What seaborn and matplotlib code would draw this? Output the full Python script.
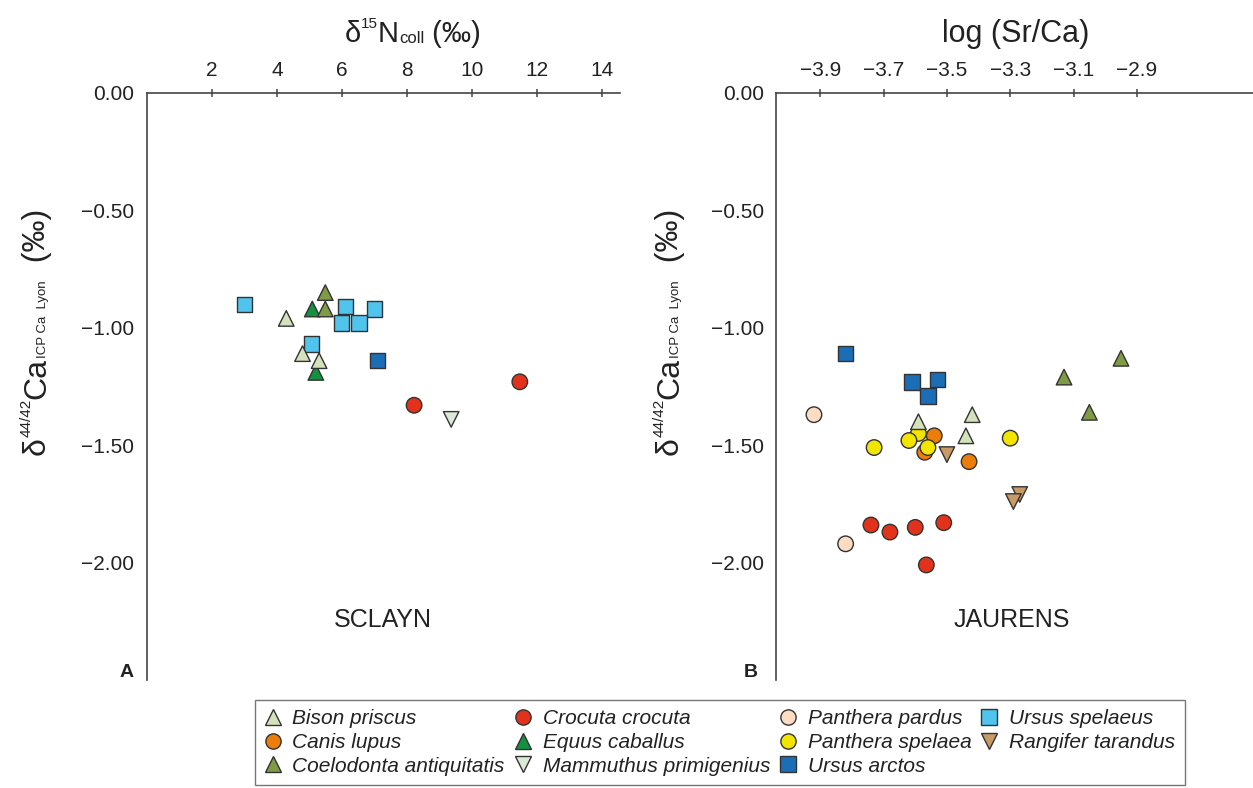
"""
Ca isotopes vs d15N (Sclayn) and log(Sr/Ca) (Jaurens)
"""

import numpy as np
import pandas as pd
import matplotlib
matplotlib.use("Agg")
import matplotlib.pyplot as plt
import seaborn as sns
from matplotlib.lines import Line2D
from matplotlib.transforms import IdentityTransform

# ── 1. Data ────────────────────────────────────────────────────────────────────
# Sclayn: x = d15N coll (permil), y = d44/42Ca (permil)
SC_BISON_X   = [4.29, 4.79, 5.30]
SC_BISON_Y   = [-0.96, -1.11, -1.14]
SC_COELO_X   = [5.49, 5.49]
SC_COELO_Y   = [-0.85, -0.92]
SC_EQUUS_X   = [5.09, 5.20]
SC_EQUUS_Y   = [-0.92, -1.19]
SC_CROC_X    = [8.22, 11.47]
SC_CROC_Y    = [-1.33, -1.23]
SC_MAMMUT_X  = [9.36]
SC_MAMMUT_Y  = [-1.39]
SC_UARCT_X   = [7.10]
SC_UARCT_Y   = [-1.14]
SC_USPEL_X   = [3.01, 6.11, 7.00, 5.99, 6.52, 5.07]
SC_USPEL_Y   = [-0.90, -0.91, -0.92, -0.98, -0.98, -1.07]

# Jaurens: x = log(Sr/Ca), y = d44/42Ca (permil)
JA_CANIS_X   = [-3.54, -3.57, -3.43]
JA_CANIS_Y   = [-1.46, -1.53, -1.57]
JA_PSPEL_X   = [-3.59, -3.62, -3.73, -3.56, -3.30]
JA_PSPEL_Y   = [-1.45, -1.48, -1.51, -1.51, -1.47]
JA_BISON_X   = [-3.59, -3.42, -3.44]
JA_BISON_Y   = [-1.40, -1.37, -1.46]
JA_COELO_X   = [-2.95, -3.13, -3.05]
JA_COELO_Y   = [-1.13, -1.21, -1.36]
JA_CROC_X    = [-3.74, -3.68, -3.60, -3.51, -3.565]
JA_CROC_Y    = [-1.84, -1.87, -1.85, -1.83, -2.01]
JA_PPARD_X   = [-3.92, -3.82]
JA_PPARD_Y   = [-1.37, -1.92]
JA_RANG_X    = [-3.50, -3.27, -3.29]
JA_RANG_Y    = [-1.54, -1.71, -1.74]
JA_UARCT_X   = [-3.82, -3.61, -3.53, -3.56]
JA_UARCT_Y   = [-1.11, -1.23, -1.22, -1.29]

SPECIES = ["Bison priscus", "Canis lupus", "Coelodonta antiquitatis",
           "Crocuta crocuta", "Equus caballus", "Mammuthus primigenius",
           "Panthera pardus", "Panthera spelaea", "Ursus arctos",
           "Ursus spelaeus", "Rangifer tarandus"]

COLORS = {
    "Bison priscus": "#d3e2bb",
    "Canis lupus": "#ec7d0a",
    "Coelodonta antiquitatis": "#7f9b45",
    "Crocuta crocuta": "#e2321b",
    "Equus caballus": "#14913f",
    "Mammuthus primigenius": "#dce9d6",
    "Panthera pardus": "#fddcc4",
    "Panthera spelaea": "#f4e500",
    "Ursus arctos": "#1b6db5",
    "Ursus spelaeus": "#50c4ec",
    "Rangifer tarandus": "#c89b66",
}
MARKERS = {
    "Bison priscus": "^", "Canis lupus": "o", "Coelodonta antiquitatis": "^",
    "Crocuta crocuta": "o", "Equus caballus": "^", "Mammuthus primigenius": "v",
    "Panthera pardus": "o", "Panthera spelaea": "o", "Ursus arctos": "s",
    "Ursus spelaeus": "s", "Rangifer tarandus": "v",
}

# draw order = row order
sclayn = pd.concat([
    pd.DataFrame({"x": SC_USPEL_X, "y": SC_USPEL_Y, "sp": "Ursus spelaeus"}),
    pd.DataFrame({"x": SC_EQUUS_X, "y": SC_EQUUS_Y, "sp": "Equus caballus"}),
    pd.DataFrame({"x": SC_COELO_X, "y": SC_COELO_Y, "sp": "Coelodonta antiquitatis"}),
    pd.DataFrame({"x": SC_BISON_X, "y": SC_BISON_Y, "sp": "Bison priscus"}),
    pd.DataFrame({"x": SC_UARCT_X, "y": SC_UARCT_Y, "sp": "Ursus arctos"}),
    pd.DataFrame({"x": SC_CROC_X, "y": SC_CROC_Y, "sp": "Crocuta crocuta"}),
    pd.DataFrame({"x": SC_MAMMUT_X, "y": SC_MAMMUT_Y, "sp": "Mammuthus primigenius"}),
], ignore_index=True)

jaurens = pd.concat([
    pd.DataFrame({"x": JA_CANIS_X, "y": JA_CANIS_Y, "sp": "Canis lupus"}),
    pd.DataFrame({"x": JA_PSPEL_X, "y": JA_PSPEL_Y, "sp": "Panthera spelaea"}),
    pd.DataFrame({"x": JA_BISON_X, "y": JA_BISON_Y, "sp": "Bison priscus"}),
    pd.DataFrame({"x": JA_COELO_X, "y": JA_COELO_Y, "sp": "Coelodonta antiquitatis"}),
    pd.DataFrame({"x": JA_CROC_X, "y": JA_CROC_Y, "sp": "Crocuta crocuta"}),
    pd.DataFrame({"x": JA_PPARD_X, "y": JA_PPARD_Y, "sp": "Panthera pardus"}),
    pd.DataFrame({"x": JA_RANG_X, "y": JA_RANG_Y, "sp": "Rangifer tarandus"}),
    pd.DataFrame({"x": JA_UARCT_X, "y": JA_UARCT_Y, "sp": "Ursus arctos"}),
], ignore_index=True)

Y_TICKS = [0.0, -0.5, -1.0, -1.5, -2.0, -2.5]
Y_LABELS = ["0.00", "\u22120.50", "\u22121.00", "\u22121.50", "\u22122.00", ""]
SC_X_TICKS = [2, 4, 6, 8, 10, 12, 14]
JA_X_TICKS = [-3.9, -3.7, -3.5, -3.3, -3.1, -2.9]
JA_X_LABELS = ["\u22123.9", "\u22123.7", "\u22123.5", "\u22123.3", "\u22123.1", "\u22122.9"]

# label pieces: (text, size, baseline shift in px)
YLABEL_PARTS = [("δ", 23, 0), ("44/42", 11, 14), ("Ca", 23, 0),
                ("ICP Ca  Lyon", 9.5, -1), ("  (‰)", 23, 0)]
XLABEL_PARTS = [("δ", 21, 0), ("15", 11, 14), ("N", 21, 0),
                ("coll", 12, -1), (" (‰)", 21, 0)]

# ── 2. Style ───────────────────────────────────────────────────────────────────
sns.set_style("white")
plt.rcParams["font.family"] = ["Liberation Sans", "DejaVu Sans"]

AX_COL = "#444444"
TXT_COL = "#222222"
W, H = 1253, 788

fig = plt.figure(figsize=(W / 100, H / 100), dpi=100)
ax_a = fig.add_axes([146.7 / W, 108 / H, 473.3 / W, 587 / H])
ax_b = fig.add_axes([776.3 / W, 108 / H, 476.7 / W, 587 / H])
renderer = fig.canvas.get_renderer()


def rich_label(parts, x_px, y_px, vertical=False):
    """Compose a label from pieces; (x_px, y_px) = centre on baseline, px from top-left."""
    texts = []
    for s, size, shift in parts:
        t = fig.text(0, 0, s, fontsize=size, color=TXT_COL, ha="left",
                     va="baseline", rotation=90 if vertical else 0,
                     rotation_mode="anchor", transform=IdentityTransform())
        bb = t.get_window_extent(renderer)
        texts.append((t, shift, bb.height if vertical else bb.width))
    total = sum(L for _, _, L in texts)
    pos = -total / 2
    for t, shift, L in texts:
        if vertical:
            t.set_position((x_px - shift, (H - y_px) + pos))
        else:
            t.set_position((x_px + pos, (H - y_px) + shift))
        pos += L


def draw_panel(ax, df):
    sns.scatterplot(data=df, x="x", y="y", hue="sp", style="sp",
                    palette=COLORS, markers=MARKERS, s=125,
                    edgecolor="#333333", linewidth=1.0, legend=False,
                    ax=ax, zorder=3)
    ax.set_ylim(-2.5, 0)
    ax.set_yticks(Y_TICKS)
    ax.set_yticklabels(Y_LABELS)
    ax.xaxis.tick_top()
    ax.xaxis.set_label_position("top")
    ax.set_ylabel("")
    for s in ["right", "bottom"]:
        ax.spines[s].set_visible(False)
    for s in ["left", "top"]:
        ax.spines[s].set_color(AX_COL)
        ax.spines[s].set_linewidth(1.2)
    ax.tick_params(axis="both", direction="inout", length=6, width=1.1,
                   color=AX_COL, labelsize=15, labelcolor=TXT_COL, pad=6)


draw_panel(ax_a, sclayn)
ax_a.set_xlim(0, 14.55)
ax_a.set_xticks(SC_X_TICKS)
ax_a.set_xlabel("")
rich_label(XLABEL_PARTS, 413, 42)
rich_label(YLABEL_PARTS, 45, 332, vertical=True)
ax_a.text(-0.042, 0.012, "A", transform=ax_a.transAxes, fontsize=14,
          fontweight="bold", ha="center", va="center", color=TXT_COL)
ax_a.text(0.499, 0.102, "SCLAYN", transform=ax_a.transAxes, fontsize=18,
          ha="center", va="center", color=TXT_COL)

draw_panel(ax_b, jaurens)
ax_b.set_xlim(-4.039, -2.533)
ax_b.set_xticks(JA_X_TICKS)
ax_b.set_xticklabels(JA_X_LABELS)
ax_b.set_xlabel("")
rich_label([("log (Sr/Ca)", 22, 0)], 1016, 42)
rich_label(YLABEL_PARTS, 678, 332, vertical=True)
ax_b.text(-0.053, 0.012, "B", transform=ax_b.transAxes, fontsize=14,
          fontweight="bold", ha="center", va="center", color=TXT_COL)
ax_b.text(0.494, 0.102, "JAURENS", transform=ax_b.transAxes, fontsize=18,
          ha="center", va="center", color=TXT_COL)

# ── 3. Legend ──────────────────────────────────────────────────────────────────
handles = [Line2D([], [], linestyle="", marker=MARKERS[sp], markersize=11,
                  markerfacecolor=COLORS[sp], markeredgecolor="#333333",
                  markeredgewidth=1.0, label=sp) for sp in SPECIES]
leg = fig.legend(handles=handles, loc="upper left",
                 bbox_to_anchor=(255 / W, 1 - 700 / H), ncol=4,
                 prop={"style": "italic", "size": 15}, frameon=True,
                 fancybox=False, handlelength=0.8, handletextpad=0.55,
                 columnspacing=0.46, labelspacing=0.22, borderpad=0.45,
                 borderaxespad=0)
leg.get_frame().set_edgecolor("#555555")
leg.get_frame().set_linewidth(1.0)
for t in leg.get_texts():
    t.set_color(TXT_COL)

plt.savefig("out.png", dpi=100)
print("Saved: out.png")
